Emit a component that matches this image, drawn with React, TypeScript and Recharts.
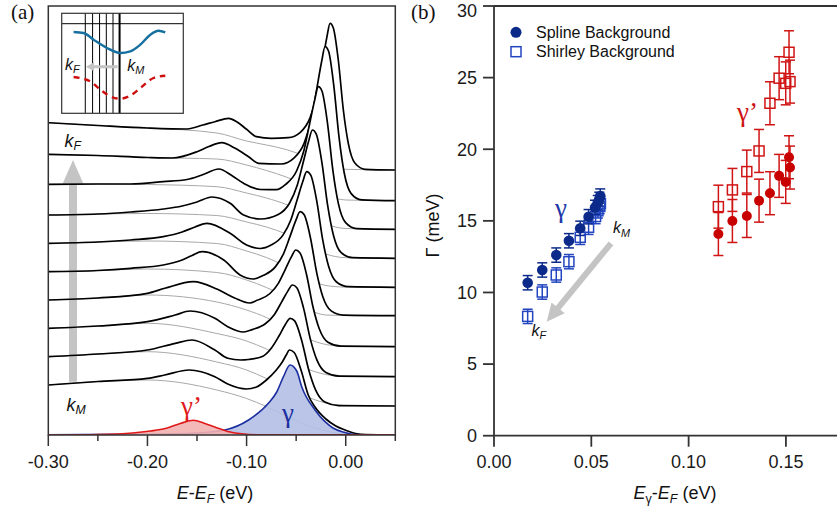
import React from "react";
import {
  ComposedChart,
  Area,
  XAxis,
  YAxis,
  ScatterChart,
  Scatter,
  ErrorBar,
  LineChart,
  Line,
  ReferenceLine,
} from "recharts";

type P = [number, number];

// ---- panel (a): EDCs, top = k_F ... bottom = k_M, [E-E_F (eV), intensity (arb.)]
const edc01: P[] = [[-0.30, 312.3], [-0.25, 309.5], [-0.20, 307], [-0.16, 306], [-0.144, 310], [-0.132, 313.3], [-0.118, 316.7], [-0.110, 313.3], [-0.100, 305.7], [-0.090, 298.3], [-0.075, 296.7], [-0.058, 297.3], [-0.0458, 302.7], [-0.0358, 317.6], [-0.0292, 340], [-0.0238, 370.4], [-0.0192, 396.8], [-0.0158, 411.7], [-0.0125, 407], [-0.0075, 375], [-0.0024, 325], [0.0026, 291.7], [0.0094, 271.7], [0.0195, 265.7], [0.05, 265]];
const edc02: P[] = [[-0.30, 280.7], [-0.25, 279.5], [-0.20, 277.5], [-0.175, 277], [-0.15, 283.3], [-0.138, 288.5], [-0.125, 292.3], [-0.112, 287], [-0.098, 278.3], [-0.088, 271.7], [-0.065, 271], [-0.0523, 276.9], [-0.0418, 292.1], [-0.0349, 315], [-0.0292, 346.1], [-0.0244, 373], [-0.0208, 388.3], [-0.0173, 383.7], [-0.0121, 349.8], [-0.0067, 297.4], [-0.0015, 262], [0.0055, 241.4], [0.016, 235.1], [0.05, 234.3]];
const edc03: P[] = [[-0.30, 250.7], [-0.25, 251], [-0.217, 251], [-0.184, 253.3], [-0.16, 255.5], [-0.145, 260], [-0.128, 266], [-0.115, 259.5], [-0.103, 251.7], [-0.086, 245.5], [-0.07, 245.3], [-0.0606, 250.6], [-0.0496, 264], [-0.0423, 284], [-0.0364, 311.3], [-0.0313, 334.9], [-0.0276, 348.3], [-0.024, 344], [-0.0185, 312.7], [-0.0129, 264.2], [-0.0074, 231.4], [-0.0001, 212.3], [0.0109, 206.4], [0.05, 205.7]];
const edc04: P[] = [[-0.30, 220], [-0.25, 221], [-0.217, 223], [-0.184, 226], [-0.165, 229], [-0.15, 233], [-0.135, 238], [-0.1166, 231.7], [-0.103, 220], [-0.086, 216], [-0.0681, 220.5], [-0.0566, 232], [-0.049, 249.4], [-0.0428, 273], [-0.0375, 293.4], [-0.0336, 305], [-0.0298, 301.1], [-0.0241, 272.9], [-0.0182, 229.3], [-0.0124, 199.8], [-0.0048, 182.6], [0.0067, 177.3], [0.05, 176.7]];
const edc05: P[] = [[-0.30, 191.7], [-0.25, 193], [-0.217, 195], [-0.184, 198.3], [-0.165, 203], [-0.152, 208], [-0.140, 211.7], [-0.1166, 201.7], [-0.100, 190], [-0.086, 186.5], [-0.0753, 189.9], [-0.0633, 199.9], [-0.0554, 215], [-0.0489, 235.5], [-0.0434, 253.3], [-0.0393, 263.3], [-0.0353, 259.8], [-0.0293, 234.4], [-0.0232, 195.1], [-0.0172, 168.5], [-0.0093, 153], [0.0027, 148.3], [0.05, 147.7]];
const edc06: P[] = [[-0.30, 163.3], [-0.25, 164.5], [-0.217, 166.7], [-0.184, 170], [-0.165, 175], [-0.155, 179.5], [-0.145, 183.3], [-0.123, 175], [-0.1066, 160], [-0.093, 156], [-0.0835, 159.4], [-0.071, 168.1], [-0.0628, 181.2], [-0.056, 199.1], [-0.0503, 214.6], [-0.046, 223.3], [-0.0419, 220.2], [-0.0356, 197.3], [-0.0292, 161.9], [-0.023, 138], [-0.0147, 124.1], [-0.0022, 119.8], [0.05, 119.3]];
const edc07: P[] = [[-0.30, 135], [-0.25, 137], [-0.20, 141.7], [-0.1825, 146.7], [-0.1536, 153.3], [-0.13, 146], [-0.112, 137], [-0.097, 132], [-0.0894, 134.7], [-0.0764, 141.5], [-0.0678, 151.9], [-0.0608, 165.9], [-0.0548, 178.1], [-0.0504, 185], [-0.0461, 182.1], [-0.0396, 160.8], [-0.033, 128], [-0.0265, 105.7], [-0.0179, 92.7], [-0.0049, 88.8], [0.05, 88.3]];
const edc08: P[] = [[-0.30, 106.7], [-0.25, 109], [-0.20, 113.3], [-0.172, 120], [-0.157, 124], [-0.132, 116.7], [-0.119, 108.3], [-0.103, 103], [-0.0943, 105.4], [-0.0808, 111.5], [-0.0719, 120.6], [-0.0646, 133.1], [-0.0584, 143.9], [-0.0538, 150], [-0.0493, 147.3], [-0.0426, 127.1], [-0.0357, 95.9], [-0.029, 74.8], [-0.02, 62.5], [-0.0065, 58.8], [0.05, 58.3]];
const edc09: P[] = [[-0.30, 78.3], [-0.25, 81], [-0.20, 85], [-0.172, 91.7], [-0.155, 95], [-0.132, 85], [-0.119, 76.7], [-0.106, 75], [-0.0981, 75.5], [-0.0841, 78.5], [-0.0749, 87], [-0.0673, 99], [-0.0609, 110.5], [-0.0561, 116.7], [-0.0515, 114.1], [-0.0445, 94.8], [-0.0373, 65], [-0.0303, 44.8], [-0.0211, 33], [-0.0071, 29.4], [0.05, 29]];
const edc10: P[] = [[-0.30, 50], [-0.25, 53.5], [-0.20, 56.7], [-0.1825, 60], [-0.158, 65], [-0.132, 58.3], [-0.119, 51], [-0.10, 46], [-0.09, 48], [-0.08, 55], [-0.07, 65], [-0.064, 73], [-0.06, 80], [-0.0568, 85], [-0.052, 82.5], [-0.0448, 64], [-0.0378, 40], [-0.031, 28], [-0.02, 16], [-0.01, 9], [-0.0007, 5], [0.01, 1.5], [0.02, 0.3], [0.05, 0]];

// spline backgrounds (gray), same order
const bgE = [-0.30, -0.25, -0.20, -0.13, -0.10, -0.08, -0.06, -0.04, -0.02, 0, 0.05];
const bg01 = [312.3, 309.5, 307, 302, 294, 290, 285.5, 278.5, 270.5, 265.7, 265];
const bg02 = [280.7, 279.5, 277.5, 276, 270, 264.5, 258, 249.5, 240, 235, 234.3];
const bg03 = [250.7, 251, 250.5, 248.3, 242, 237, 230.5, 221, 211, 206.5, 205.7];
const bg04 = [220, 221, 221.5, 219.5, 213, 208, 201, 191, 181, 177.3, 176.7];
const bg05 = [191.7, 193, 194, 191.5, 184, 177.5, 168.5, 157.5, 149.5, 147.9, 147.7];
const bg06 = [163.3, 164.5, 166, 162.5, 155, 147.5, 138, 126.5, 120, 119.5, 119.3];
const bg07 = [135, 137, 140, 133, 125, 117.5, 107, 97, 90.5, 88.6, 88.3];
const bg08 = [106.7, 109, 111.7, 101.5, 94, 86, 76, 66.5, 60.5, 58.6, 58.3];
const bg09 = [78.3, 81, 83.3, 73, 65, 56.5, 47, 38.5, 32, 29.5, 29];
const bg10 = [50, 53.5, 55, 45, 36.5, 28.5, 19, 10, 4, 1, 0];

// fitted components at k_M
const fitGamma: P[] = [[-0.30, 0.3], [-0.20, 0.8], [-0.15, 2], [-0.122, 5], [-0.098, 15], [-0.078, 31.7], [-0.0696, 43], [-0.0628, 58.3], [-0.0562, 70], [-0.0494, 64], [-0.0444, 48.3], [-0.031, 25], [-0.0209, 13.3], [-0.0124, 6.7], [-0.0007, 2.5], [0.008, 0.5], [0.05, 0]];
const fitGammaPrime: P[] = [[-0.30, 0], [-0.25, 0.5], [-0.215, 2], [-0.197, 4], [-0.182, 6.5], [-0.167, 11.5], [-0.1536, 14.8], [-0.142, 11.5], [-0.132, 8], [-0.119, 3.5], [-0.105, 1.2], [-0.09, 0.3], [0.05, 0]];

const energyTicks = [-0.3, -0.25, -0.2, -0.15, -0.1, -0.05, 0, 0.05];

// inset schematic
const insetCutsK = [-0.617, -0.497, -0.382, -0.271, -0.161, -0.053];
const insetEF = 0.893;
const bandK = [-0.809, -0.645, -0.48, -0.26, -0.041, 0.123, 0.288, 0.452, 0.589, 0.699];
const bandE = [0.81, 0.8, 0.733, 0.65, 0.6, 0.616, 0.683, 0.783, 0.823, 0.806];
const shadowK = [-0.809, -0.535, -0.37, -0.206, -0.041, 0.123, 0.288, 0.507, 0.699];
const shadowE = [0.36, 0.316, 0.233, 0.166, 0.143, 0.173, 0.25, 0.35, 0.373];

// ---- panel (b): width vs peak energy
const gSplineE = [0.0173, 0.0248, 0.032, 0.0385, 0.0443, 0.0486, 0.0519, 0.0533, 0.0541, 0.0546];
const gSplineW = [10.68, 11.57, 12.61, 13.61, 14.48, 15.29, 15.94, 16.27, 16.5, 16.73];
const gShirleyE = [0.0173, 0.0248, 0.032, 0.0385, 0.0443, 0.0486, 0.0522, 0.0534, 0.0543, 0.0547];
const gShirleyW = [8.33, 10.03, 11.22, 12.15, 13.85, 14.55, 15.3, 15.7, 16.0, 16.2];
const pSplineE = [0.1153, 0.1225, 0.1299, 0.1362, 0.1418, 0.1465, 0.1499, 0.1516, 0.1521];
const pSplineW = [14.08, 14.99, 15.34, 16.41, 16.93, 18.14, 17.72, 19.44, 18.72];
const pShirleyE = [0.1153, 0.1225, 0.1299, 0.1362, 0.1418, 0.1465, 0.1499, 0.1516, 0.1521];
const pShirleyW = [15.99, 17.16, 18.44, 19.88, 23.21, 24.96, 24.6, 26.77, 24.72];
const gErr = 0.5;
const pErr = 1.5;

const NAVY = "#0c2a8a";
const BLUE = "#2345c0";
const RED = "#d01414";
const ARROW = "#c4c4c4";

const curves = [edc01, edc02, edc03, edc04, edc05, edc06, edc07, edc08, edc09, edc10];
const bgs = [bg01, bg02, bg03, bg04, bg05, bg06, bg07, bg08, bg09, bg10];

const toXY = (a: P[]) => a.map(([x, y]) => ({ x, y }));
const zipXY = (xs: number[], ys: number[], e?: number) => xs.map((x, i) => ({ x, y: ys[i], e }));

function EnergyTick(props: any) {
  const { x, y, payload } = props;
  const v: number = payload.value;
  const major = Math.abs(v * 10 - Math.round(v * 10)) < 1e-6;
  return (
    <g>
      <line x1={x} x2={x} y1={y} y2={y + (major ? 11 : 6)} stroke="#333" strokeWidth={1.5} />
      {major && (
        <text x={x} y={y + 33} textAnchor="middle" fontSize={18} fill="#1a1a1a">
          {v.toFixed(2)}
        </text>
      )}
    </g>
  );
}

function arrowPts(x1: number, y1: number, x2: number, y2: number, shaft: number, headLen: number, headW: number) {
  const dx = x2 - x1;
  const dy = y2 - y1;
  const L = Math.hypot(dx, dy);
  const ux = dx / L, uy = dy / L, nx = -uy, ny = ux;
  const bx = x2 - ux * headLen, by = y2 - uy * headLen;
  const pts = [
    [x1 + (nx * shaft) / 2, y1 + (ny * shaft) / 2],
    [bx + (nx * shaft) / 2, by + (ny * shaft) / 2],
    [bx + (nx * headW) / 2, by + (ny * headW) / 2],
    [x2, y2],
    [bx - (nx * headW) / 2, by - (ny * headW) / 2],
    [bx - (nx * shaft) / 2, by - (ny * shaft) / 2],
    [x1 - (nx * shaft) / 2, y1 - (ny * shaft) / 2],
  ];
  return pts.map((p) => p.join(",")).join(" ");
}

function K({ x, y, sub, size }: { x: number; y: number; sub: string; size: number }) {
  return (
    <text x={x} y={y} fontSize={size} fontStyle="italic" fill="#111">
      k
      <tspan fontSize={size * 0.68} dy={size * 0.2}>{sub}</tspan>
    </text>
  );
}

function PanelA() {
  return (
    <ComposedChart width={420} height={510} margin={{ top: 6, right: 24.7, bottom: 0, left: 48.3 }}>
      <XAxis
        type="number"
        dataKey="x"
        domain={[-0.3, 0.05]}
        ticks={energyTicks}
        interval={0}
        tickSize={0}
        tickMargin={0}
        tickLine={false}
        axisLine={false}
        height={75}
        tick={(p: any) => <EnergyTick {...p} />}
        allowDataOverflow
      />
      <YAxis type="number" domain={[0, 429]} hide allowDataOverflow />
      {curves.map((c, i) => [
        <Area
          key={`f${i}`}
          data={toXY(c.filter((p) => p[0] >= -0.22))}
          dataKey="y"
          type="monotone"
          stroke="none"
          fill="#ffffff"
          fillOpacity={1}
          activeDot={false}
          isAnimationActive={false}
        />,
        <Area
          key={`g${i}`}
          data={bgE.map((x, j) => ({ x, y: bgs[i][j] }))}
          dataKey="y"
          type="monotone"
          stroke="#a8a8a8"
          strokeWidth={1}
          fill="none"
          activeDot={false}
          isAnimationActive={false}
        />,
        <Area
          key={`c${i}`}
          data={toXY(c)}
          dataKey="y"
          type="monotone"
          stroke="#000"
          strokeWidth={1.7}
          fill="none"
          activeDot={false}
          isAnimationActive={false}
        />,
      ])}
      <Area data={toXY(fitGamma)} dataKey="y" type="monotone" stroke="#1c2fa0" strokeWidth={1.6} fill="#b3bfe6" fillOpacity={0.9} activeDot={false} isAnimationActive={false} />
      <Area data={toXY(fitGammaPrime)} dataKey="y" type="monotone" stroke="#e01a1a" strokeWidth={1.6} fill="#f2b0b0" fillOpacity={0.9} activeDot={false} isAnimationActive={false} />
    </ComposedChart>
  );
}

function Inset() {
  return (
    <LineChart width={121.6} height={100} margin={{ top: 0, right: 0, bottom: 0, left: 0 }}>
      <XAxis type="number" dataKey="k" domain={[-1, 1]} hide />
      <YAxis type="number" domain={[0, 1]} hide />
      {insetCutsK.map((k, i) => (
        <ReferenceLine key={i} x={k} stroke="#000" strokeWidth={i === insetCutsK.length - 1 ? 2 : 1} />
      ))}
      <ReferenceLine y={insetEF} stroke="#000" strokeWidth={1} />
      <Line data={bandK.map((k, i) => ({ k, e: bandE[i] }))} dataKey="e" type="monotone" stroke="#1570a0" strokeWidth={2.4} dot={false} activeDot={false} isAnimationActive={false} />
      <Line data={shadowK.map((k, i) => ({ k, e: shadowE[i] }))} dataKey="e" type="monotone" stroke="#cc1010" strokeWidth={2.4} strokeDasharray="6 5" dot={false} activeDot={false} isAnimationActive={false} />
    </LineChart>
  );
}

const circleShape = (color: string, r: number) => (p: any) => <circle cx={p.cx} cy={p.cy} r={r} fill={color} />;
const squareShape = (color: string) => (p: any) => (
  <rect x={p.cx - 5} y={p.cy - 5} width={10} height={10} fill="none" stroke={color} strokeWidth={1.5} />
);

function PanelB() {
  const axisStyle = { stroke: "#333", strokeWidth: 1.8 };
  return (
    <ScatterChart width={430} height={510} margin={{ top: 6, right: 5.7, bottom: 0, left: 0 }}>
      <XAxis
        type="number"
        dataKey="x"
        domain={[0, 0.18]}
        ticks={[0, 0.05, 0.1, 0.15]}
        tickFormatter={(v: number) => v.toFixed(2)}
        height={74.3}
        tickSize={11}
        tickMargin={9}
        tick={{ fontSize: 18, fill: "#1a1a1a" }}
        axisLine={axisStyle}
        tickLine={axisStyle}
      />
      <YAxis
        type="number"
        dataKey="y"
        domain={[0, 30]}
        ticks={[0, 5, 10, 15, 20, 25, 30]}
        width={74}
        tickSize={11}
        tickMargin={6}
        tick={{ fontSize: 18, fill: "#1a1a1a" }}
        axisLine={axisStyle}
        tickLine={axisStyle}
      />
      <Scatter data={zipXY(gShirleyE, gShirleyW, gErr)} shape={squareShape(BLUE)} isAnimationActive={false}>
        <ErrorBar dataKey="e" direction="y" width={5} stroke={BLUE} strokeWidth={1.5} />
      </Scatter>
      <Scatter data={zipXY(gSplineE, gSplineW, gErr)} shape={circleShape(NAVY, 5.3)} isAnimationActive={false}>
        <ErrorBar dataKey="e" direction="y" width={5} stroke={NAVY} strokeWidth={1.5} />
      </Scatter>
      <Scatter data={zipXY(pShirleyE, pShirleyW, pErr)} shape={squareShape(RED)} isAnimationActive={false}>
        <ErrorBar dataKey="e" direction="y" width={5} stroke={RED} strokeWidth={1.5} />
      </Scatter>
      <Scatter data={zipXY(pSplineE, pSplineW, pErr)} shape={circleShape("#c80000", 5)} isAnimationActive={false}>
        <ErrorBar dataKey="e" direction="y" width={5} stroke={RED} strokeWidth={1.5} />
      </Scatter>
    </ScatterChart>
  );
}

export default function App() {
  const abs = { position: "absolute" as const };
  return (
    <div
      style={{
        position: "absolute",
        left: 0,
        top: 0,
        width: 837,
        height: 510,
        overflow: "hidden",
        background: "#fff",
        fontFamily: "'Liberation Sans', Arial, Helvetica, sans-serif",
      }}
    >
      {/* behind the curves */}
      <svg width={837} height={510} style={{ ...abs, left: 0, top: 0 }}>
        <polygon points={arrowPts(73, 381.7, 73, 160, 8, 24, 21)} fill={ARROW} />
      </svg>

      <div style={{ ...abs, left: 0, top: 0 }}>
        <PanelA />
      </div>
      <div style={{ ...abs, left: 61.7, top: 13.3 }}>
        <Inset />
      </div>
      <div style={{ ...abs, left: 420, top: 0 }}>
        <PanelB />
      </div>

      {/* frames, labels, annotations */}
      <svg width={837} height={510} style={{ ...abs, left: 0, top: 0, pointerEvents: "none" }}>
        <rect x={48.3} y={6} width={347} height={429} fill="none" stroke="#333" strokeWidth={1.5} />
        <rect x={61.7} y={13.3} width={121.6} height={100} fill="none" stroke="#333" strokeWidth={1.2} />
        <polygon points={arrowPts(117.5, 66.7, 86, 66.7, 3, 8, 9)} fill={ARROW} />
        <K x={65} y={70} sub="F" size={16} />
        <K x={127.3} y={71} sub="M" size={16} />

        <K x={64.5} y={146.7} sub="F" size={18} />
        <K x={66.5} y={410.7} sub="M" size={18} />
        <text x={181} y={415} fontSize={27} fill="#e01a1a" fontFamily="'Liberation Serif', 'Times New Roman', serif">γ’</text>
        <text x={282} y={422} fontSize={27} fill="#1c2fa0" fontFamily="'Liberation Serif', 'Times New Roman', serif">γ</text>

        <text x={11} y={19} fontSize={21} fill="#111" fontFamily="'Liberation Serif', 'Times New Roman', serif">(a)</text>
        <text x={411} y={19} fontSize={21} fill="#111" fontFamily="'Liberation Serif', 'Times New Roman', serif">(b)</text>

        <text x={215} y={499} textAnchor="middle" fontSize={18} fill="#111">
          <tspan fontStyle="italic">E</tspan>-<tspan fontStyle="italic">E</tspan>
          <tspan fontStyle="italic" fontSize={12.5} dy={4}>F</tspan>
          <tspan dy={-4}> (eV)</tspan>
        </text>
        <text x={675} y={499} textAnchor="middle" fontSize={18} fill="#111">
          <tspan fontStyle="italic">E</tspan>
          <tspan fontSize={12.5} dy={4}>γ</tspan>
          <tspan dy={-4}>-</tspan>
          <tspan fontStyle="italic">E</tspan>
          <tspan fontStyle="italic" fontSize={12.5} dy={4}>F</tspan>
          <tspan dy={-4}> (eV)</tspan>
        </text>
        <text transform="translate(438.5,225.5) rotate(-90)" textAnchor="middle" fontSize={18} fill="#111">
          Γ (meV)
        </text>

        <line x1={494} y1={6} x2={837} y2={6} stroke="#333" strokeWidth={1.8} />

        <circle cx={516} cy={32.3} r={5.5} fill={NAVY} />
        <text x={536} y={37.5} fontSize={16} fill="#111">Spline Background</text>
        <rect x={511} y={46.7} width={10} height={10} fill="none" stroke={BLUE} strokeWidth={1.5} />
        <text x={536} y={57} fontSize={16} fill="#111">Shirley Background</text>

        <text x={555} y={216.5} fontSize={27} fill="#2238a8" fontFamily="'Liberation Serif', 'Times New Roman', serif">γ</text>
        <text x={737} y={120.5} fontSize={27} fill={RED} fontFamily="'Liberation Serif', 'Times New Roman', serif">γ’</text>
        <polygon points={arrowPts(611, 243.3, 546.7, 321.7, 6, 18, 17)} fill={ARROW} />
        <K x={613} y={233.3} sub="M" size={16} />
        <K x={531.5} y={335.5} sub="F" size={16} />
      </svg>
    </div>
  );
}
